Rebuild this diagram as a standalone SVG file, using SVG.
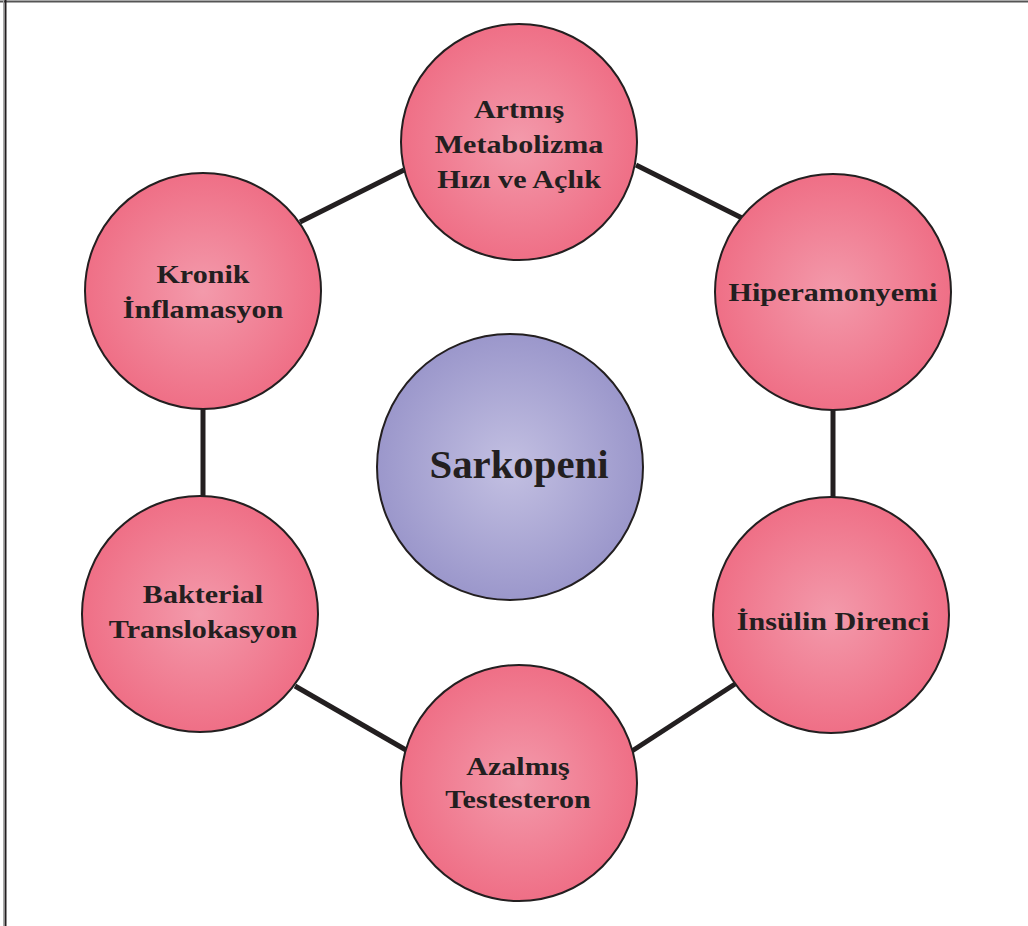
<svg xmlns="http://www.w3.org/2000/svg" width="1028" height="926" viewBox="0 0 1028 926">
  <style>
    .node { stroke: #231f20; stroke-width: 2; }
    .pink { fill: url(#pinkGrad); }
    .purple { fill: url(#purpleGrad); }
    .label { font-family: "Liberation Serif", "Times New Roman", serif; font-weight: bold; font-size: 25.5px; fill: #231f20; text-anchor: middle; }
    .center-label { font-size: 40px; }
    .edge { stroke: #231f20; stroke-width: 5; fill: none; }
  </style>
  <defs>
    <radialGradient id="pinkGrad" cx="50%" cy="50%" r="50%">
      <stop offset="0%" stop-color="#f39aab"/>
      <stop offset="100%" stop-color="#ef6f86"/>
    </radialGradient>
    <radialGradient id="purpleGrad" cx="50%" cy="50%" r="50%">
      <stop offset="0%" stop-color="#c3c0e2"/>
      <stop offset="100%" stop-color="#9b97cb"/>
    </radialGradient>
  </defs>

  <rect width="1028" height="926" fill="#ffffff"/>
  <!-- page frame -->
  <g id="frame">
    <line x1="0" y1="1.5" x2="1028" y2="1.5" stroke="#555" stroke-width="2"/>
    <line x1="5.5" y1="0" x2="5.5" y2="926" stroke="#231f20" stroke-width="2"/>
    <line x1="3.5" y1="0" x2="3.5" y2="926" stroke="#aaa" stroke-width="1"/>
  </g>

  <!-- hexagon ring connectors -->
  <g id="connectors">
    <line class="edge" x1="300" y1="222" x2="404" y2="170"/>
    <line class="edge" x1="636" y1="165" x2="742" y2="218"/>
    <line class="edge" x1="833" y1="408" x2="833" y2="498"/>
    <line class="edge" x1="735" y1="684" x2="632" y2="751"/>
    <line class="edge" x1="295" y1="686" x2="406" y2="750"/>
    <line class="edge" x1="203" y1="409" x2="203" y2="497"/>
  </g>

  <!-- labels are set in a horizontally widened serif -->
  <g id="node-artmis">
    <circle class="node pink" cx="519" cy="142" r="118"/>
    <g transform="translate(519 0) scale(1.18 1)">
      <text class="label" x="0" y="118">Artmış</text>
      <text class="label" x="0" y="153">Metabolizma</text>
      <text class="label" x="0" y="188">Hızı ve Açlık</text>
    </g>
  </g>

  <g id="node-hiperamonyemi">
    <circle class="node pink" cx="833" cy="292" r="118"/>
    <g transform="translate(833 0) scale(1.18 1)">
      <text class="label" x="0" y="301">Hiperamonyemi</text>
    </g>
  </g>

  <g id="node-insulin">
    <circle class="node pink" cx="831" cy="615" r="118"/>
    <g transform="translate(833 0) scale(1.18 1)">
      <text class="label" x="0" y="630">İnsülin Direnci</text>
    </g>
  </g>

  <g id="node-azalmis">
    <circle class="node pink" cx="519" cy="783" r="118"/>
    <g transform="translate(518 0) scale(1.18 1)">
      <text class="label" x="0" y="775">Azalmış</text>
      <text class="label" x="0" y="808">Testesteron</text>
    </g>
  </g>

  <g id="node-bakterial">
    <circle class="node pink" cx="200" cy="614" r="118"/>
    <g transform="translate(203 0) scale(1.18 1)">
      <text class="label" x="0" y="603">Bakterial</text>
      <text class="label" x="0" y="638">Translokasyon</text>
    </g>
  </g>

  <g id="node-kronik">
    <circle class="node pink" cx="203" cy="291" r="118"/>
    <g transform="translate(203 0) scale(1.18 1)">
      <text class="label" x="0" y="283">Kronik</text>
      <text class="label" x="0" y="318">İnflamasyon</text>
    </g>
  </g>

  <g id="node-sarkopeni">
    <circle class="node purple" cx="510" cy="467" r="133"/>
    <g transform="translate(519 0) scale(1.02 1)">
      <text class="label center-label" x="0" y="478">Sarkopeni</text>
    </g>
  </g>
</svg>
